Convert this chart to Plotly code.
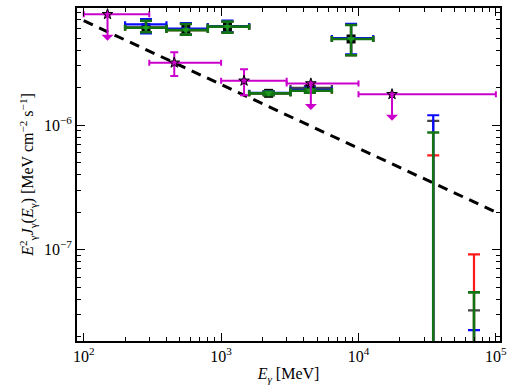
import math
import plotly.graph_objects as go

# ---------------- data ----------------
# Fermi-LAT-like bins (shared by the four overlapping analyses)
bin_E = [284, 554, 1112, 2218, 4427, 8830, 35000, 69300]
bin_lo = [200, 400, 800, 1600, 3200, 6400, 35000, 69300]
bin_hi = [400, 800, 1600, 3200, 6400, 12800, 35000, 69300]

red_F = [6.05e-6, 5.80e-6, 6.18e-6, 1.80e-6, 1.89e-6, 4.92e-6, 5e-9, 5e-9]
red_up = [6.90e-6, 6.50e-6, 6.78e-6, 1.86e-6, 1.96e-6, 6.38e-6, 5.71e-7, 9.16e-8]
red_dn = [5.57e-6, 5.33e-6, 5.53e-6, 1.74e-6, 1.82e-6, 3.64e-6, 5e-9, 5e-9]

gray_F = [6.10e-6, 5.90e-6, 6.18e-6, 1.80e-6, 1.99e-6, 4.92e-6, 5e-9, 5e-9]
gray_up = [6.95e-6, 6.55e-6, 6.80e-6, 1.86e-6, 2.06e-6, 6.38e-6, 1.08e-6, 3.25e-8]
gray_dn = [5.55e-6, 5.30e-6, 5.55e-6, 1.74e-6, 1.92e-6, 3.64e-6, 5e-9, 5e-9]

blue_F = [6.45e-6, 5.95e-6, 6.25e-6, 1.82e-6, 1.92e-6, 5.00e-6, 5e-9, 5e-9]
blue_up = [7.10e-6, 6.60e-6, 6.90e-6, 1.88e-6, 2.00e-6, 6.50e-6, 1.20e-6, 2.25e-8]
blue_dn = [5.45e-6, 5.30e-6, 5.60e-6, 1.76e-6, 1.85e-6, 3.70e-6, 5e-9, 5e-9]

green_F = [6.05e-6, 5.80e-6, 6.18e-6, 1.80e-6, 1.89e-6, 4.92e-6, 5e-9, 5e-9]
green_up = [6.90e-6, 6.50e-6, 6.78e-6, 1.86e-6, 1.96e-6, 6.38e-6, 8.73e-7, 4.53e-8]
green_dn = [5.57e-6, 5.33e-6, 5.53e-6, 1.74e-6, 1.82e-6, 3.64e-6, 5e-9, 5e-9]

# magenta analysis (stars), with upper limits
mag_E = [149, 456, 1469, 4500, 17540]
mag_lo = [100, 300, 1000, 3000, 10000]
mag_hi = [300, 1000, 3000, 10000, 100000]
mag_F = [7.78e-6, 3.17e-6, 2.27e-6, 2.16e-6, 1.77e-6]
mag_up = [7.78e-6, 3.85e-6, 2.81e-6, 2.16e-6, 1.77e-6]
mag_dn = [7.78e-6, 2.48e-6, 1.74e-6, 2.16e-6, 1.77e-6]
mag_ul = [True, False, False, True, True]

# power-law model (dashed)
model_E = [100, 100000]
model_F = [6.9e-6, 2.0e-7]

x_tickvals = [1e2, 1e3, 1e4, 1e5]
x_ticktext = ["10<sup>2</sup>", "10<sup>3</sup>", "10<sup>4</sup>", "10<sup>5</sup>"]
y_tickvals = [1e-7, 1e-6]
y_ticktext = ["10<sup>\u22127</sup>", "10<sup>\u22126</sup>"]

# ---------------- figure ----------------
FONT = "Liberation Serif"
fig = go.Figure()

fig.add_trace(go.Scatter(x=model_E, y=model_F, mode="lines",
                         line=dict(color="black", width=3, dash="10px,7px"),
                         showlegend=False))


def add_series(F, up, dn, color, marker, thick=2.2):
    fig.add_trace(go.Scatter(
        x=bin_E, y=F, mode="markers", marker=marker, showlegend=False,
        error_y=dict(type="data", symmetric=False,
                     array=[u - f for u, f in zip(up, F)],
                     arrayminus=[f - d for f, d in zip(F, dn)],
                     color=color, thickness=thick, width=6),
        error_x=dict(type="data", symmetric=False,
                     array=[h - e for h, e in zip(bin_hi, bin_E)],
                     arrayminus=[e - l for e, l in zip(bin_E, bin_lo)],
                     color=color, thickness=thick, width=3),
    ))


add_series(red_F, red_up, red_dn, "#ff1a1a", dict(size=1, color="rgba(0,0,0,0)"))
add_series(gray_F, gray_up, gray_dn, "#444444", dict(size=9, color="black", symbol="square"))
add_series(blue_F, blue_up, blue_dn, "#0a0aff", dict(size=1, color="rgba(0,0,0,0)"))
add_series(green_F, green_up, green_dn, "#137313",
           dict(size=7, color="#1f9a1f", symbol="triangle-down"), thick=2.6)

fig.add_trace(go.Scatter(
    x=mag_E, y=mag_F, mode="markers", showlegend=False,
    marker=dict(symbol="star", size=8, color="#cc00cc", line=dict(color="black", width=1)),
    error_y=dict(type="data", symmetric=False,
                 array=[u - f for u, f in zip(mag_up, mag_F)],
                 arrayminus=[f - d for f, d in zip(mag_F, mag_dn)],
                 color="#cc00cc", thickness=2, width=4),
    error_x=dict(type="data", symmetric=False,
                 array=[h - e for h, e in zip(mag_hi, mag_E)],
                 arrayminus=[e - l for e, l in zip(mag_E, mag_lo)],
                 color="#cc00cc", thickness=2, width=3),
))

for e, f, ul in zip(mag_E, mag_F, mag_ul):
    if ul:
        fig.add_annotation(x=math.log10(e), y=math.log10(f), xref="x", yref="y",
                           text="", showarrow=True, ax=0, ay=28,
                           arrowside="start", arrowhead=2, arrowsize=1,
                           arrowwidth=2, arrowcolor="#cc00cc")

minor_x = [m * 10 ** d for d in range(1, 6) for m in range(2, 10)]
minor_y = [m * 10 ** d for d in range(-9, -4) for m in range(2, 10)]

axis_common = dict(
    type="log", showgrid=False, zeroline=False,
    showline=True, linecolor="black", linewidth=2, mirror="allticks",
    ticks="inside", ticklen=8, tickwidth=1.2, tickcolor="black",
    tickfont=dict(family=FONT, size=16, color="black"),
)

fig.update_xaxes(**axis_common, range=[1.951, 5.03],
                 tickvals=x_tickvals, ticktext=x_ticktext,
                 minor=dict(tickvals=minor_x, ticks="inside", ticklen=4,
                            tickcolor="black", tickwidth=1),
                 title=dict(text="<i>E<sub>\u03b3</sub></i> [MeV]",
                            font=dict(family=FONT, size=16, color="black"), standoff=4))
fig.update_yaxes(**axis_common, range=[-7.735, -5.059],
                 tickvals=y_tickvals, ticktext=y_ticktext,
                 minor=dict(tickvals=minor_y, ticks="inside", ticklen=4,
                            tickcolor="black", tickwidth=1),
                 title=dict(text="<i>E</i><sup>2</sup><sub>\u03b3</sub><i>J</i><sub>\u03b3</sub>(<i>E</i><sub>\u03b3</sub>) [MeV cm<sup>\u22122</sup> s<sup>\u22121</sup>]",
                            font=dict(family=FONT, size=16, color="black"), standoff=6))

fig.update_layout(
    width=510, height=392,
    margin=dict(l=77, r=10, t=8, b=51, autoexpand=False),
    paper_bgcolor="white", plot_bgcolor="white",
    showlegend=False,
)

fig.write_html("out.html")
